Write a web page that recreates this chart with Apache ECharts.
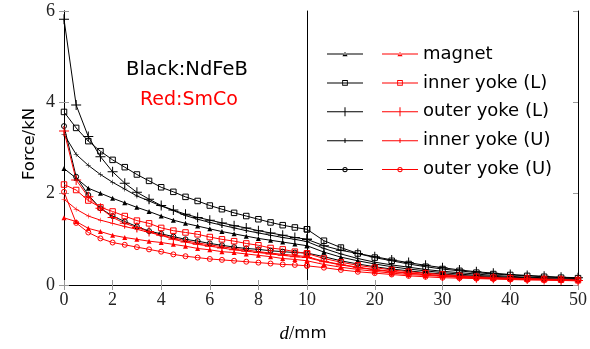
<!DOCTYPE html>
<html>
<head>
<meta charset="utf-8">
<script src="https://cdn.jsdelivr.net/npm/echarts@6/dist/echarts.min.js"></script>
<style>
  html, body { margin: 0; padding: 0; background: #fff; }
  #chart { width: 590px; height: 349px; }
</style>
</head>
<body>
<div id="chart"></div>
<script>
// Gap d in mm: fine steps up to 10 mm, coarse steps beyond
const dist = [0, 0.5, 1, 1.5, 2, 2.5, 3, 3.5, 4, 4.5, 5, 5.5, 6, 6.5, 7, 7.5, 8, 8.5, 9, 9.5, 10,
  12.5, 15, 17.5, 20, 22.5, 25, 27.5, 30, 32.5, 35, 37.5, 40, 42.5, 45, 47.5, 50];

const partNames = ['magnet', 'inner yoke (L)', 'outer yoke (L)', 'inner yoke (U)', 'outer yoke (U)'];

// Force in kN, NdFeB magnets
const ndfebMagnet = [2.55, 2.34, 2.12, 2.01, 1.90, 1.80, 1.70, 1.61, 1.51, 1.42,
  1.35, 1.29, 1.23, 1.17, 1.12, 1.07, 1.02, 0.98, 0.94, 0.90, 0.86,
  0.72, 0.61, 0.53, 0.46, 0.40, 0.35, 0.31, 0.27, 0.24, 0.21, 0.19, 0.17, 0.16, 0.14, 0.13, 0.12];
const ndfebInnerL = [3.79, 3.44, 3.15, 2.93, 2.74, 2.58, 2.42, 2.28, 2.14, 2.04,
  1.93, 1.84, 1.74, 1.66, 1.58, 1.51, 1.44, 1.37, 1.31, 1.26, 1.22,
  0.97, 0.82, 0.69, 0.60, 0.53, 0.46, 0.40, 0.35, 0.31, 0.27, 0.24, 0.22, 0.20, 0.18, 0.16, 0.15];
const ndfebOuterL = [5.82, 3.94, 3.25, 2.81, 2.48, 2.23, 2.03, 1.88, 1.74, 1.64,
  1.55, 1.48, 1.42, 1.36, 1.30, 1.25, 1.19, 1.14, 1.09, 1.04, 1.00,
  0.86, 0.76, 0.69, 0.62, 0.55, 0.49, 0.43, 0.38, 0.33, 0.29, 0.26, 0.23, 0.21, 0.19, 0.17, 0.16];
const ndfebInnerU = [3.30, 2.86, 2.62, 2.42, 2.25, 2.10, 1.95, 1.84, 1.73, 1.63,
  1.52, 1.44, 1.37, 1.31, 1.25, 1.19, 1.14, 1.09, 1.04, 1.00, 0.95,
  0.80, 0.68, 0.58, 0.50, 0.44, 0.39, 0.34, 0.30, 0.27, 0.24, 0.21, 0.19, 0.17, 0.16, 0.15, 0.14];
const ndfebOuterU = [3.48, 2.37, 1.97, 1.68, 1.51, 1.39, 1.28, 1.18, 1.12, 1.06,
  1.00, 0.96, 0.91, 0.87, 0.83, 0.80, 0.78, 0.75, 0.73, 0.71, 0.70,
  0.62, 0.53, 0.46, 0.40, 0.35, 0.31, 0.27, 0.24, 0.21, 0.19, 0.17, 0.15, 0.14, 0.13, 0.12, 0.11];

// Force in kN, SmCo magnets
const smcoMagnet = [1.47, 1.39, 1.24, 1.17, 1.09, 1.04, 1.00, 0.96, 0.93, 0.89,
  0.85, 0.80, 0.77, 0.73, 0.71, 0.68, 0.65, 0.62, 0.58, 0.56, 0.53,
  0.45, 0.39, 0.34, 0.30, 0.26, 0.23, 0.21, 0.19, 0.17, 0.15, 0.14, 0.13, 0.12, 0.11, 0.10, 0.09];
const smcoInnerL = [2.20, 2.08, 1.85, 1.70, 1.61, 1.51, 1.41, 1.35, 1.25, 1.19,
  1.15, 1.11, 1.05, 1.00, 0.96, 0.91, 0.87, 0.81, 0.78, 0.73, 0.69,
  0.58, 0.50, 0.43, 0.38, 0.33, 0.29, 0.26, 0.23, 0.20, 0.18, 0.16, 0.15, 0.14, 0.13, 0.12, 0.11];
const smcoOuterL = [3.37, 2.30, 1.93, 1.68, 1.48, 1.35, 1.26, 1.17, 1.09, 1.00,
  0.94, 0.89, 0.85, 0.81, 0.77, 0.74, 0.71, 0.68, 0.65, 0.62, 0.60,
  0.51, 0.44, 0.38, 0.33, 0.29, 0.26, 0.23, 0.20, 0.18, 0.16, 0.15, 0.14, 0.13, 0.12, 0.11, 0.10];
const smcoInnerU = [1.88, 1.66, 1.51, 1.42, 1.35, 1.28, 1.22, 1.15, 1.09, 1.03,
  0.97, 0.92, 0.88, 0.84, 0.80, 0.77, 0.73, 0.70, 0.67, 0.65, 0.62,
  0.52, 0.45, 0.39, 0.34, 0.30, 0.26, 0.23, 0.21, 0.19, 0.17, 0.15, 0.14, 0.13, 0.12, 0.11, 0.10];
const smcoOuterU = [2.04, 1.36, 1.15, 1.02, 0.93, 0.88, 0.83, 0.78, 0.73,
  0.67, 0.63, 0.60, 0.57, 0.55, 0.53, 0.51, 0.49, 0.47, 0.45, 0.44, 0.42,
  0.38, 0.33, 0.29, 0.26, 0.23, 0.20, 0.18, 0.16, 0.15, 0.14, 0.13, 0.12, 0.11, 0.11, 0.10, 0.10];

const yTicks = [0, 2, 4, 6];
const xTicksNear = [0, 2, 4, 6, 8, 10];
const xTicksFar = [20, 30, 40, 50];

// Marker shapes per part (open marks let the line show through)
const plusPath = 'path://M0,4.5H10V5.5H0Z M4.5,0H5.5V10H4.5Z';
const markers = [
  { symbol: 'triangle', size: 5, fill: true },
  { symbol: 'rect', size: 5.5, fill: false },
  { symbol: plusPath, size: 10, fill: true },
  { symbol: plusPath, size: 5, fill: true },
  { symbol: 'circle', size: 5, fill: false }
];

// Legend keys: a short line with the mark in its middle (36 x 10 box)
const keyLine = 'M0,4.5H36V5.5H0Z';
const legendKeys = [
  'path://' + keyLine + ' M15.4,7.3L20.6,7.3L18,2.7Z',
  'path://' + keyLine + ' M15.2,2.2H20.8V7.8H15.2Z M16.1,3.1V6.9H19.9V3.1Z',
  'path://' + keyLine + ' M17.5,0.5H18.5V9.5H17.5Z M13.5,4.5H22.5V5.5H13.5Z',
  'path://' + keyLine + ' M17.5,2.6H18.5V7.4H17.5Z',
  'path://' + keyLine + ' M15.4,5A2.6,2.6 0 1 1 20.6,5A2.6,2.6 0 1 1 15.4,5Z M16.3,5A1.7,1.7 0 1 0 19.7,5A1.7,1.7 0 1 0 16.3,5Z'
];

const ndfebSets = [ndfebMagnet, ndfebInnerL, ndfebOuterL, ndfebInnerU, ndfebOuterU];
const smcoSets = [smcoMagnet, smcoInnerL, smcoOuterL, smcoInnerU, smcoOuterU];

const serifFont = 'Liberation Serif';
const sansFont = 'DejaVu Sans';
const BLACK = '#000';
const RED = '#ff0000';

function pairs(values, lo, hi) {
  const out = [];
  dist.forEach((d, i) => { if (d >= lo && d <= hi) out.push([d, values[i]]); });
  return out;
}

function makeSeries(name, values, color, mk) {
  const base = {
    name: name,
    type: 'line',
    symbol: mk.symbol,
    symbolSize: mk.size,
    showAllSymbol: true,
    lineStyle: { color: color, width: 1 },
    itemStyle: mk.fill
      ? { color: color, borderWidth: 0 }
      : { color: 'rgba(0,0,0,0)', borderColor: color, borderWidth: 1 },
    emphasis: { disabled: true },
    animation: false,
    z: 3
  };
  return [
    Object.assign({}, base, { xAxisIndex: 0, yAxisIndex: 0, data: pairs(values, 0, 10) }),
    Object.assign({}, base, { xAxisIndex: 2, yAxisIndex: 2, data: pairs(values, 10, 50) })
  ];
}

const series = [];
const ndfebNames = partNames.map(n => 'NdFeB ' + n);
partNames.forEach((n, i) => {
  series.push(...makeSeries(ndfebNames[i], ndfebSets[i], BLACK, markers[i]));
});
partNames.forEach((n, i) => {
  series.push(...makeSeries(n, smcoSets[i], RED, markers[i]));
});

const axisLineBlack = { show: true, lineStyle: { color: '#000', width: 1 } };
const tickIn = { show: true, inside: true, length: 5, lineStyle: { color: '#999', width: 1 } };
const tickLabel = { fontFamily: serifFont, fontSize: 18, color: '#222' };

function xAx(grid, min, max, interval, pos, labels, showMin) {
  return {
    gridIndex: grid, type: 'value', position: pos, min: min, max: max, interval: interval,
    axisLine: axisLineBlack, axisTick: tickIn, splitLine: { show: false },
    axisLabel: labels ? Object.assign({ show: true, margin: 6, showMinLabel: showMin }, tickLabel) : { show: false }
  };
}
function yAx(grid, pos, labels, ticks) {
  return {
    gridIndex: grid, type: 'value', position: pos, min: yTicks[0], max: yTicks[yTicks.length - 1],
    interval: yTicks[1] - yTicks[0],
    axisLine: axisLineBlack, axisTick: ticks ? tickIn : { show: false }, splitLine: { show: false },
    axisLabel: labels ? Object.assign({ show: true, margin: 9 }, tickLabel) : { show: false }
  };
}

const legendCommon = {
  orient: 'vertical', top: 44, padding: 0, itemWidth: 36, itemHeight: 10, itemGap: 8.9,
  selectedMode: false, symbolKeepAspect: true,
  textStyle: { fontFamily: sansFont, fontSize: 18, color: '#000', lineHeight: 20 }
};
function legendData(names, color) {
  return names.map((n, i) => ({ name: n, icon: legendKeys[i], itemStyle: { color: color, borderWidth: 0 } }));
}

const option = {
  backgroundColor: '#fff',
  animation: false,
  grid: [
    { left: 64, right: 283, top: 11, bottom: 64, containLabel: false },
    { left: 307, right: 9, top: 11, bottom: 64, containLabel: false }
  ],
  xAxis: [
    xAx(0, xTicksNear[0], xTicksNear[xTicksNear.length - 1], xTicksNear[1] - xTicksNear[0], 'bottom', true, true),
    xAx(0, xTicksNear[0], xTicksNear[xTicksNear.length - 1], xTicksNear[1] - xTicksNear[0], 'top', false, true),
    xAx(1, 10, xTicksFar[xTicksFar.length - 1], xTicksFar[1] - xTicksFar[0], 'bottom', true, false),
    xAx(1, 10, xTicksFar[xTicksFar.length - 1], xTicksFar[1] - xTicksFar[0], 'top', false, false)
  ],
  yAxis: [
    yAx(0, 'left', true, true),
    yAx(0, 'right', false, true),
    yAx(1, 'left', false, false),
    yAx(1, 'right', false, true)
  ],
  legend: [
    Object.assign({}, legendCommon, { left: 327, data: legendData(ndfebNames, BLACK), formatter: () => ' ' }),
    Object.assign({}, legendCommon, { left: 382, data: legendData(partNames, RED) })
  ],
  graphic: [
    { type: 'text', x: 126, y: 70, style: { text: 'Black:NdFeB', fill: BLACK, font: '19.5px ' + sansFont, verticalAlign: 'middle' } },
    { type: 'text', x: 140, y: 100, style: { text: 'Red:SmCo', fill: RED, font: '19px ' + sansFont, verticalAlign: 'middle' } },
    { type: 'text', x: 30, y: 144, rotation: Math.PI / 2,
      style: { text: 'Force/kN', fill: BLACK, font: '16.5px ' + sansFont, align: 'center', verticalAlign: 'middle' } },
    { type: 'text', x: 303, y: 334,
      style: {
        text: '{i|d}{s|/}{m|mm}', align: 'center', verticalAlign: 'middle',
        rich: {
          i: { fontFamily: serifFont, fontStyle: 'italic', fontSize: 19, fill: BLACK },
          s: { fontFamily: serifFont, fontSize: 19, fill: BLACK },
          m: { fontFamily: sansFont, fontSize: 16.5, fill: BLACK }
        }
      } }
  ],
  series: series
};

const chart = echarts.init(document.getElementById('chart'), null, { renderer: 'canvas' });
chart.setOption(option);
</script>
</body>
</html>
